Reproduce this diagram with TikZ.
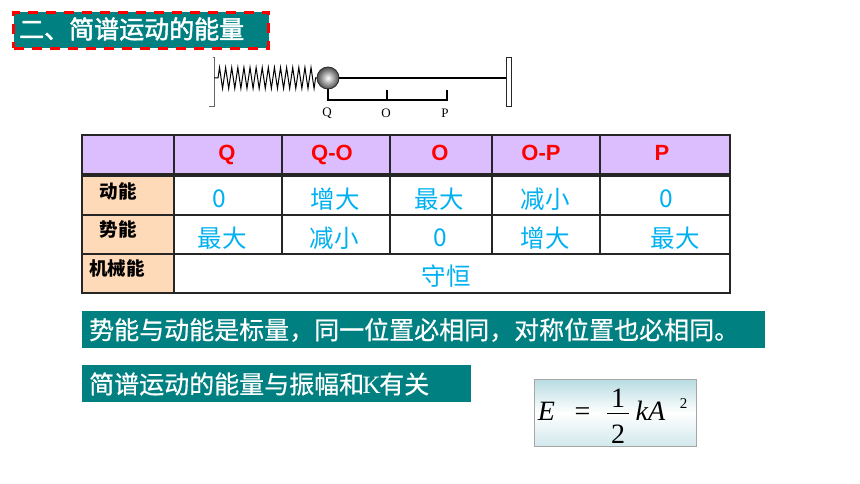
\documentclass[tikz,border=0pt]{standalone}
\usepackage{fontspec}
\setmainfont{Liberation Sans}
\newfontfamily\cjk{Noto Sans CJK SC}
\newfontfamily\cjkbar[FakeBold=0.6]{Noto Sans CJK SC}
\newfontfamily\cjkhead[FakeBold=1.8]{Noto Sans CJK SC}
\newfontfamily\labfont{Liberation Serif}
\usetikzlibrary{decorations.pathmorphing}
\definecolor{barteal}{HTML}{008080}
\definecolor{headviolet}{HTML}{DCBEFF}
\definecolor{sidepeach}{HTML}{FFDAB9}
\definecolor{valblue}{HTML}{00B0F0}
\definecolor{gridink}{HTML}{262626}
\definecolor{formtop}{HTML}{B8DCE2}
\definecolor{formbot}{HTML}{D2E8EC}
\tikzset{
  cellbox/.style={draw=gridink, line width=1.2pt, anchor=north west, inner sep=0pt, outer sep=0pt},
  headtxt/.style={text=red, anchor=base, font=\fontsize{22}{26}\selectfont\bfseries},
  sidetxt/.style={font=\fontsize{18.5}{20}\selectfont\cjk\bfseries},
  valtxt/.style={text=valblue, font=\fontsize{24.5}{28}\selectfont\cjk},
  bartxt/.style={text=white, font=\fontsize{25}{28}\selectfont\cjkbar},
  postxt/.style={font=\fontsize{13}{15}\selectfont\labfont},
  formtxt/.style={anchor=base, inner sep=0pt, font=\fontsize{28}{32}\selectfont\labfont},
}
\begin{document}
\begin{tikzpicture}[x=1pt,y=-1pt]
\useasboundingbox (0,0) rectangle (860,484);
% title bar
\node[fill=barteal, draw=red, line width=3pt, dash pattern=on 10pt off 8pt, anchor=north west, inner sep=0pt, minimum width=255pt, minimum height=36pt] (titlebar) at (12,11) {};
\node[anchor=west, inner sep=0pt, text=white, font=\fontsize{25}{28}\selectfont\cjkhead] (titletxt) at (19,29) {二、简谱运动的能量};
% spring and ball
\coordinate (springl) at (214,78);
\coordinate (springr) at (318,78);
\node[draw=gridink, line width=0.8pt, anchor=north west, minimum width=5pt, minimum height=49pt, inner sep=0pt] (wallr) at (506,57) {};
\coordinate (walltop) at (214,57);
\coordinate (wallbot) at (214,106);
\coordinate (walltick) at (209,106);
\coordinate (walltip) at (213,57);
\draw[gray!80!black, line width=0.9pt] (walltip) -- (walltop) -- (wallbot) -- (walltick);
\draw[line width=1pt, decorate, decoration={zigzag, segment length=6.1pt, amplitude=10.5pt, pre length=4pt, post length=0pt}] (springl) -- (springr);
\node[circle, draw=black!85, line width=0.8pt, inner color=white, outer color=gray!60!black, minimum size=22pt, inner sep=0pt] (ball) at (328,78) {};
\draw[line width=1.4pt] (ball) -- (wallr.west |- ball);
% scale under the rod
\coordinate (qtop) at (328,89);
\coordinate (qbot) at (328,100);
\coordinate (otop) at (387,90);
\coordinate (obot) at (387,100);
\coordinate (ptop) at (447,90);
\coordinate (pbot) at (447,100);
\draw[line width=1.1pt] (qtop) -- (qbot) -- (pbot) -- (ptop);
\draw[line width=1.1pt] (otop) -- (obot);
\node[postxt] (lblq) at (327,113) {Q};
\node[postxt] (lblo) at (386,113) {O};
\node[postxt] (lblp) at (445,113) {P};
% table, header row
\node[cellbox, fill=headviolet, minimum width=92pt, minimum height=39pt] (h0) at (82,135) {};
\node[cellbox, fill=headviolet, minimum width=108pt, minimum height=39pt] (h1) at (174,135) {};
\node[cellbox, fill=headviolet, minimum width=108pt, minimum height=39pt] (h2) at (282,135) {};
\node[cellbox, fill=headviolet, minimum width=102pt, minimum height=39pt] (h3) at (390,135) {};
\node[cellbox, fill=headviolet, minimum width=108pt, minimum height=39pt] (h4) at (492,135) {};
\node[cellbox, fill=headviolet, minimum width=130pt, minimum height=39pt] (h5) at (600,135) {};
% first row
\node[cellbox, fill=sidepeach, minimum width=92pt, minimum height=39pt] (a0) at (82,176) {};
\node[cellbox, minimum width=108pt, minimum height=39pt] (a1) at (174,176) {};
\node[cellbox, minimum width=108pt, minimum height=39pt] (a2) at (282,176) {};
\node[cellbox, minimum width=102pt, minimum height=39pt] (a3) at (390,176) {};
\node[cellbox, minimum width=108pt, minimum height=39pt] (a4) at (492,176) {};
\node[cellbox, minimum width=130pt, minimum height=39pt] (a5) at (600,176) {};
% second row
\node[cellbox, fill=sidepeach, minimum width=92pt, minimum height=39pt] (b0) at (82,215) {};
\node[cellbox, minimum width=108pt, minimum height=39pt] (b1) at (174,215) {};
\node[cellbox, minimum width=108pt, minimum height=39pt] (b2) at (282,215) {};
\node[cellbox, minimum width=102pt, minimum height=39pt] (b3) at (390,215) {};
\node[cellbox, minimum width=108pt, minimum height=39pt] (b4) at (492,215) {};
\node[cellbox, minimum width=130pt, minimum height=39pt] (b5) at (600,215) {};
% third row
\node[cellbox, fill=sidepeach, minimum width=92pt, minimum height=39pt] (c0) at (82,254) {};
\node[cellbox, minimum width=556pt, minimum height=39pt] (c1) at (174,254) {};
% table texts
\node[headtxt] (tq) at (227,161) {Q};
\node[headtxt] (tqo) at (332,161) {Q-O};
\node[headtxt] (to) at (440,161) {O};
\node[headtxt] (top) at (541,161) {O-P};
\node[headtxt] (tp) at (662,161) {P};
\node[sidetxt] (s1) at (118,191) {动能};
\node[sidetxt] (s2) at (118,229) {势能};
\node[sidetxt] (s3) at (117,268) {机械能};
\node[valtxt] (v11) at (219,199) {0};
\node[valtxt] (v12) at (335,199) {增大};
\node[valtxt] (v13) at (439,199) {最大};
\node[valtxt] (v14) at (545,199) {减小};
\node[valtxt] (v15) at (666,199) {0};
\node[valtxt] (v21) at (222,238) {最大};
\node[valtxt] (v22) at (334,238) {减小};
\node[valtxt] (v23) at (440,238) {0};
\node[valtxt] (v24) at (545,238) {增大};
\node[valtxt] (v25) at (675,238) {最大};
\node[valtxt] (v31) at (446,276) {守恒};
% lower bars
\node[fill=barteal, anchor=north west, inner sep=0pt, minimum width=683pt, minimum height=37pt] (bar1) at (82,311) {};
\node[bartxt, anchor=west, inner sep=0pt] (bar1txt) at (89,330) {势能与动能是标量，同一位置必相同，对称位置也必相同。};
\node[fill=barteal, anchor=north west, inner sep=0pt, minimum width=389pt, minimum height=37pt] (bar2) at (82,365) {};
\node[bartxt, anchor=west, inner sep=0pt] (bar2txt) at (89,384) {简谱运动的能量与振幅和\kern-1.5pt{\labfont K}\kern-1.5pt 有关};
% formula
\node[anchor=north west, inner sep=0pt, minimum width=162pt, minimum height=67pt, draw=gray!70, line width=0.7pt, top color=formtop, bottom color=formbot, middle color=white] (formula) at (534,379) {};
\node[formtxt] (forme) at (546.5,420) {\itshape E};
\node[formtxt] (formeq) at (582.5,420) {=};
\node[formtxt] (formone) at (618,407) {1};
\coordinate (barl) at (607,413);
\coordinate (barr) at (629,413);
\draw[line width=0.9pt] (barl) -- (barr);
\node[formtxt] (formtwo) at (618,443) {2};
\node[formtxt] (formka) at (650.5,420) {\itshape kA};
\node[formtxt, font=\fontsize{15}{17}\selectfont\labfont] (formexp) at (683.5,408) {2};
\end{tikzpicture}
\end{document}
